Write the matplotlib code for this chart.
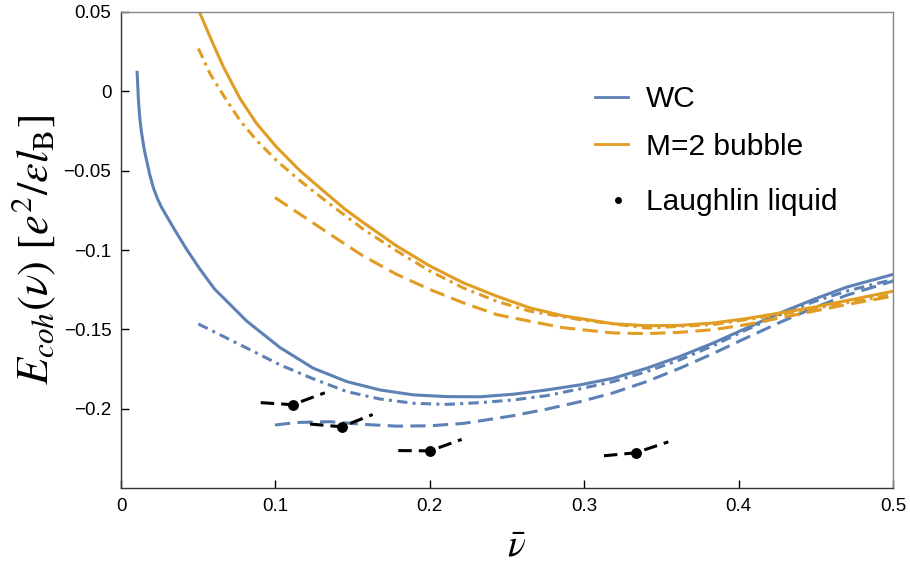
import matplotlib
matplotlib.use("Agg")
import matplotlib.pyplot as plt
from matplotlib.lines import Line2D

plt.rcParams['font.family'] = ['Liberation Sans', 'DejaVu Sans']
plt.rcParams['mathtext.fontset'] = 'stix'

BLUE = '#5E81B5'
ORANGE = '#E19C24'

# Wigner crystal: full, dash-dot and dashed approximations
wc_nu = [0.0104, 0.0113, 0.0122, 0.0134, 0.0149, 0.0166, 0.0186, 0.0209, 0.0235, 0.0263,
         0.0339, 0.0425, 0.0512, 0.0605, 0.0814, 0.103, 0.1245, 0.1461, 0.1677, 0.1893,
         0.2109, 0.2325, 0.2541, 0.2757, 0.2973, 0.3189, 0.3405, 0.362, 0.3836, 0.4052,
         0.4268, 0.4484, 0.47, 0.5]
wc_E = [0.012, -0.0057, -0.0175, -0.0268, -0.036, -0.0437, -0.0525, -0.0606, -0.0675, -0.0732,
        -0.0859, -0.0996, -0.1122, -0.1245, -0.1448, -0.1615, -0.1745, -0.1829, -0.1882, -0.1913,
        -0.1924, -0.1925, -0.1909, -0.1882, -0.185, -0.1808, -0.1745, -0.1671, -0.1586, -0.1492,
        -0.1397, -0.1312, -0.1234, -0.1154]

wc_dd_nu = [0.0501, 0.0598, 0.0814, 0.103, 0.1245, 0.1461, 0.1677, 0.1893, 0.2109, 0.2325,
            0.2541, 0.2757, 0.2973, 0.3189, 0.3405, 0.362, 0.3836, 0.4052, 0.4268, 0.4484,
            0.47, 0.5]
wc_dd_E = [-0.1466, -0.1513, -0.1618, -0.1724, -0.1812, -0.1892, -0.1939, -0.1966, -0.1973, -0.1962,
           -0.1945, -0.1918, -0.1875, -0.1829, -0.1766, -0.1692, -0.1603, -0.1502, -0.1407, -0.1327,
           -0.1259, -0.1186]

wc_d_nu = [0.0997, 0.1138, 0.1353, 0.1569, 0.1785, 0.2001, 0.2217, 0.2325, 0.2541, 0.2757,
           0.2973, 0.3189, 0.3405, 0.362, 0.3836, 0.4052, 0.4268, 0.4484, 0.47, 0.5]
wc_d_E = [-0.2103, -0.2087, -0.2082, -0.2099, -0.211, -0.2108, -0.2093, -0.2077, -0.2044, -0.2003,
          -0.1956, -0.1900, -0.1829, -0.1745, -0.1652, -0.1553, -0.1456, -0.1366, -0.1285, -0.1196]

# M=2 bubble phase: full, dash-dot and dashed approximations
bub_nu = [0.0507, 0.0576, 0.0663, 0.0771, 0.0879, 0.1008, 0.1159, 0.131, 0.1451, 0.1569,
          0.1786, 0.2001, 0.2217, 0.2433, 0.2649, 0.2865, 0.3189, 0.3405, 0.362, 0.3836,
          0.4052, 0.4268, 0.4484, 0.47, 0.5]
bub_E = [0.0502, 0.0344, 0.0154, -0.0046, -0.0204, -0.0352, -0.05, -0.0627, -0.0743, -0.0827,
         -0.0975, -0.1101, -0.1207, -0.1291, -0.1365, -0.1415, -0.1465, -0.1477, -0.1475, -0.146,
         -0.1432, -0.1397, -0.1361, -0.1319, -0.126]

bub_dd_nu = [0.0501, 0.0576, 0.0663, 0.0771, 0.0879, 0.1008, 0.1159, 0.131, 0.1397, 0.1569,
             0.1786, 0.2001, 0.2217, 0.2433, 0.2649, 0.2973, 0.3405, 0.3836, 0.4268, 0.5]
bub_dd_E = [0.027, 0.0112, -0.0025, -0.0184, -0.031, -0.0437, -0.0563, -0.0679, -0.0743, -0.0869,
            -0.1006, -0.1133, -0.1239, -0.1323, -0.1386, -0.1439, -0.1492, -0.147, -0.1407, -0.1281]

bub_d_nu = [0.0997, 0.1354, 0.1569, 0.1786, 0.2001, 0.2217, 0.2433, 0.2649, 0.2865, 0.3189,
            0.3405, 0.362, 0.3836, 0.4052, 0.4268, 0.4484, 0.47, 0.5]
bub_d_E = [-0.0669, -0.0901, -0.1038, -0.1154, -0.1249, -0.1333, -0.1407, -0.1449, -0.149, -0.1523,
           -0.1527, -0.1519, -0.1502, -0.147, -0.1428, -0.1386, -0.1344, -0.1291]

# Laughlin liquid energies at nu = 1/9, 1/7, 1/5, 1/3 with local slopes
lau_nu = [1/9, 1/7, 1/5, 1/3]
lau_E = [-0.1975, -0.2114, -0.2266, -0.2278]
lau_left_nu = [0.0905, 0.1224, 0.1796, 0.3128]
lau_left_E = [-0.1962, -0.2097, -0.2264, -0.2297]
lau_right_nu = [0.132, 0.163, 0.2206, 0.3545]
lau_right_E = [-0.190, -0.2037, -0.2194, -0.2209]

x_ticks = [0, 0.1, 0.2, 0.3, 0.4, 0.5]
x_tick_labels = ['0', '0.1', '0.2', '0.3', '0.4', '0.5']
y_ticks = [0.05, 0, -0.05, -0.1, -0.15, -0.2]
y_tick_labels = ['0.05', '0', '\u22120.05', '\u22120.1', '\u22120.15', '\u22120.2']

fig = plt.figure(figsize=(9.1, 5.66), dpi=100)
ax = fig.add_axes([0.133, 0.1378, 0.8483, 0.841])

lw = 2.2
dash = (5, 2.4)
dashdot = (3.4, 1.7, 1.0, 1.7)

ax.plot(wc_nu, wc_E, color=BLUE, lw=lw)
ax.plot(wc_dd_nu, wc_dd_E, color=BLUE, lw=lw, dashes=dashdot)
ax.plot(wc_d_nu, wc_d_E, color=BLUE, lw=lw, dashes=dash)

ax.plot(bub_nu, bub_E, color=ORANGE, lw=lw)
ax.plot(bub_dd_nu, bub_dd_E, color=ORANGE, lw=lw, dashes=dashdot)
ax.plot(bub_d_nu, bub_d_E, color=ORANGE, lw=lw, dashes=dash)

for i in range(len(lau_nu)):
    ax.plot([lau_left_nu[i], lau_nu[i], lau_right_nu[i]],
            [lau_left_E[i], lau_E[i], lau_right_E[i]],
            color='black', lw=2.2, dashes=(4.4, 2.3))
ax.plot(lau_nu, lau_E, 'o', color='black', ms=6.8, zorder=5)

ax.set_xlim(0, 0.5)
ax.set_ylim(-0.25, 0.05)
ax.set_xticks(x_ticks)
ax.set_xticklabels(x_tick_labels)
ax.set_yticks(y_ticks)
ax.set_yticklabels(y_tick_labels)
ax.tick_params(direction='in', length=6, width=1, labelsize=13.5, colors='black', pad=7)

for side in ['left', 'bottom']:
    ax.spines[side].set_color('#333333')
for side in ['top', 'right']:
    ax.spines[side].set_color('#888888')
for s in ax.spines.values():
    s.set_linewidth(1.0)

ax.set_xlabel(r'$\bar{\nu}$', fontsize=27)
ax.xaxis.set_label_coords(0.512, -0.086)
ax.set_ylabel(r'$E_{coh}(\nu)\ [e^2/\epsilon l_{\mathrm{B}}]$', fontsize=32, labelpad=4)

fs_leg = 21.5
leg1 = ax.legend([Line2D([], [], color=BLUE, lw=2), Line2D([], [], color=ORANGE, lw=2)],
                 ['WC', 'M=2 bubble'], frameon=False, fontsize=fs_leg, loc='upper left',
                 bbox_to_anchor=(0.614, 0.846), handlelength=1.1, handletextpad=0.6,
                 labelspacing=0.65, borderaxespad=0, borderpad=0)
ax.add_artist(leg1)
ax.legend([Line2D([], [], color='black', marker='o', ls='none', ms=4)],
          ['Laughlin liquid'], frameon=False, fontsize=fs_leg, loc='upper left',
          bbox_to_anchor=(0.631, 0.630), handlelength=0.69, handletextpad=0.59,
          borderaxespad=0, borderpad=0)

fig.savefig('out.png', dpi=100)
